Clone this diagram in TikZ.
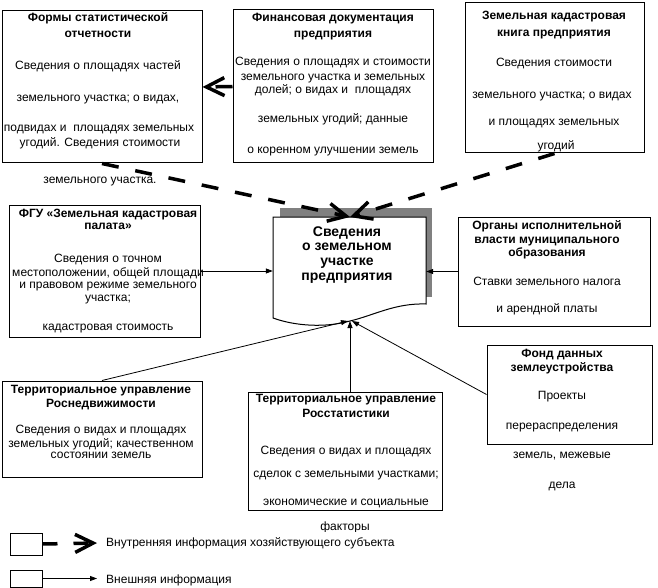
\documentclass[tikz,border=0pt]{standalone}
\usepackage{fontspec}
\setmainfont{Liberation Sans}
\usetikzlibrary{arrows.meta}
\definecolor{shadowgray}{RGB}{128,128,128}
\begin{document}
\begin{tikzpicture}[x=1pt,y=-1pt,
  box/.style={draw, line width=1pt, rectangle, inner sep=0pt, fill=white},
  txt/.style={inner sep=0pt, font=\fontsize{12}{14}\selectfont, text height=8.6pt, text depth=0pt},
  ttl/.style={txt, font=\fontsize{12}{14}\selectfont\bfseries},
  ctl/.style={inner sep=0pt, font=\fontsize{14}{16}\selectfont\bfseries, text height=10pt, text depth=0pt},
  intern/.style={line width=3.5pt, dash pattern=on 17pt off 17pt, -{Straight Barb[length=18pt,width=18pt]}},
  extern/.style={line width=0.8pt, -{Triangle[length=7pt,width=5pt]}},
]
\useasboundingbox (0,0) rectangle (658,588);

% central document with shadow
\fill[shadowgray] (280,208) rectangle (432,297);
\draw[line width=1pt, fill=white] (273,217) -- (426,217) -- (426,304)
  .. controls (395,303) and (375,315) .. (350,321)
  .. controls (325,328) and (295,326) .. (273,318) -- cycle;
\node[inner sep=0pt, minimum width=153pt, minimum height=104pt] (c) at (349.5,269) {};
\coordinate (ctop) at (350,217);
\coordinate (cbot) at (350,321);

% boxes
\node[box, minimum width=200pt, minimum height=152pt] (b1) at (102,87) {};
\node[box, minimum width=200pt, minimum height=153pt] (b2) at (333,86.5) {};
\node[box, minimum width=179pt, minimum height=150pt] (b3) at (554.5,78) {};
\node[box, minimum width=191pt, minimum height=132pt] (b4) at (104.5,271) {};
\node[box, minimum width=192pt, minimum height=109pt] (b6) at (554,271.5) {};
\node[box, minimum width=165pt, minimum height=99pt] (b7) at (569.5,394.5) {};
\node[box, minimum width=200pt, minimum height=96pt] (b8) at (102,429) {};
\node[box, minimum width=194pt, minimum height=118pt] (b9) at (345,451) {};
\node[box, minimum width=32pt, minimum height=22pt] (lg1) at (26,544) {};
\node[box, minimum width=32pt, minimum height=17pt] (lg2) at (26,578.5) {};

% box 1
\node[ttl] (t11) at (98,17) {Формы статистической};
\node[ttl] (t12) at (98,33) {отчетности};
\node[txt] (t13) at (98,65) {Сведения о площадях частей};
\node[txt] (t14) at (98,97) {земельного участка; о видах,};
\node[txt] (t15) at (99,127) {подвидах и\ \ площадях земельных};
\node[txt] (t16) at (100,142) {угодий. Сведения стоимости};
\node[txt] (t17) at (100,179) {земельного участка.};

% box 2
\node[ttl] (t21) at (333,17) {Финансовая документация};
\node[ttl] (t22) at (333,33) {предприятия};
\node[txt] (t23) at (333,61) {Сведения о площадях и стоимости};
\node[txt] (t24) at (333,76) {земельного участка и земельных};
\node[txt] (t25) at (333,89) {долей; о видах и\ \ площадях};
\node[txt] (t26) at (333,118) {земельных угодий; данные};
\node[txt] (t27) at (333,149) {о коренном улучшении земель};

% box 3
\node[ttl] (t31) at (554,15) {Земельная кадастровая};
\node[ttl] (t32) at (554,32) {книга предприятия};
\node[txt] (t33) at (554,62) {Сведения стоимости};
\node[txt] (t34) at (552,94) {земельного участка; о видах};
\node[txt] (t35) at (554,121) {и площадях земельных};
\node[txt] (t36) at (556,145) {угодий};

% box 4
\node[ttl] (t41) at (108,213) {ФГУ «Земельная кадастровая};
\node[ttl] (t42) at (108,225.5) {палата»};
\node[txt] (t43) at (108,258) {Сведения о точном};
\node[txt] (t44) at (108,271.7) {местоположении, общей площади};
\node[txt] (t45) at (108,284.3) {и правовом режиме земельного};
\node[txt] (t46) at (108,296.7) {участка;};
\node[txt] (t47) at (108,326) {кадастровая стоимость};

% centre
\node[ctl] (c1) at (347,231.7) {Сведения};
\node[ctl] (c2) at (347,245) {о земельном};
\node[ctl] (c3) at (347,260) {участке};
\node[ctl] (c4) at (347,275.5) {предприятия};

% box 6
\node[ttl] (t61) at (547,225) {Органы исполнительной};
\node[ttl] (t62) at (547,239.3) {власти муниципального};
\node[ttl] (t63) at (547,252.3) {образования};
\node[txt] (t64) at (547,281) {Ставки земельного налога};
\node[txt] (t65) at (547,308) {и арендной платы};

% box 7
\node[ttl] (t71) at (562,353.3) {Фонд данных};
\node[ttl] (t72) at (562,366.7) {землеустройства};
\node[txt] (t73) at (562,395) {Проекты};
\node[txt] (t74) at (562,425) {перераспределения};
\node[txt] (t75) at (562,454) {земель, межевые};
\node[txt] (t76) at (562,484) {дела};

% box 8
\node[ttl] (t81) at (101,389.3) {Территориальное управление};
\node[ttl] (t82) at (101,403.3) {Роснедвижимости};
\node[txt] (t83) at (101,429.3) {Сведения о видах и площадях};
\node[txt] (t84) at (101,442.7) {земельных угодий; качественном};
\node[txt] (t85) at (101,454) {состоянии земель};

% box 9
\node[ttl] (t91) at (346,398.3) {Территориальное управление};
\node[ttl] (t92) at (346,413.3) {Росстатистики};
\node[txt] (t93) at (346,450) {Сведения о видах и площадях};
\node[txt] (t94) at (346,473) {сделок с земельными участками;};
\node[txt] (t95) at (346,501) {экономические и социальные};
\node[txt] (t96) at (345,526) {факторы};

% legend texts
\node[txt, anchor=west, fill=white, inner ysep=6pt] (lt1) at (106,542) {Внутренняя информация хозяйствующего субъекта};
\node[txt, anchor=west] (lt2) at (106,579) {Внешняя информация};
\coordinate (lq1) at (97,543);
\coordinate (lq2) at (97,578.5);

% connectors: internal
\draw[intern] (b2.west) -- (b1.east);
\draw[intern] (b1.south) -- (ctop);
\draw[intern] (b3.south) -- (ctop);
\draw[intern, dash pattern=on 15pt off 16pt] (lg1.east) -- (lq1);

% connectors: external
\draw[extern] (b4.east) -- (b4.east -| c.west);
\draw[extern] (b6.west) -- (b6.west -| c.east);
\draw[extern] (b8.north) -- ([xshift=-2pt]cbot);
\draw[extern] (b9.north -| cbot) -- (cbot);
\draw[extern] (b7.west) -- ([xshift=2pt]cbot);
\draw[extern] (lg2.east) -- (lq2);
\end{tikzpicture}
\end{document}
